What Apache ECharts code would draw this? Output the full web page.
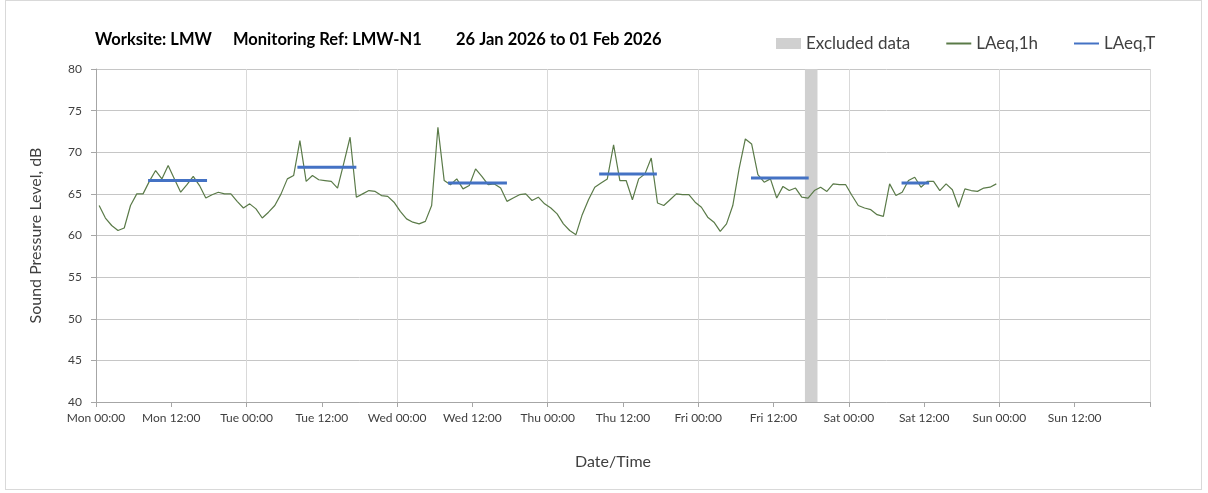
<!DOCTYPE html>
<html>
<head>
<meta charset="utf-8">
<title>LMW-N1 noise monitoring</title>
<script src="https://cdn.jsdelivr.net/npm/echarts@6/dist/echarts.min.js"></script>
<style>
  html, body { margin: 0; padding: 0; background: #fff; }
  #frame { position: absolute; left: 5px; top: 0; width: 1197px; height: 490px; border: 1px solid #d9d9d9; box-sizing: border-box; }
  #main { position: absolute; left: 0; top: 0; width: 1208px; height: 493px; }
</style>
</head>
<body>
<div id="frame"></div>
<div id="main"></div>
<script>
// hourly LAeq,1h values, Mon 00:00 -> Sun 00:00 (one per hour, plotted at mid-hour)
const laeq1h = [
  63.6, 62.1, 61.2, 60.6, 60.9, 63.6, 65.0, 65.0, 66.5, 67.8, 66.8, 68.4,
  66.8, 65.2, 66.1, 67.1, 66.0, 64.5, 64.9, 65.2, 65.0, 65.0, 64.1, 63.3,
  63.8, 63.2, 62.1, 62.8, 63.6, 65.0, 66.8, 67.2, 71.4, 66.5, 67.2, 66.7,
  66.6, 66.5, 65.7, 68.7, 71.8, 64.6, 65.0, 65.4, 65.3, 64.8, 64.7, 64.0,
  62.9, 62.0, 61.6, 61.4, 61.7, 63.6, 73.0, 66.6, 66.1, 66.8, 65.6, 66.0,
  68.0, 67.1, 66.1, 66.2, 65.7, 64.1, 64.5, 64.9, 65.0, 64.2, 64.6, 63.8,
  63.3, 62.6, 61.4, 60.6, 60.1, 62.5, 64.3, 65.8, 66.3, 66.8, 70.9, 66.6,
  66.6, 64.3, 66.8, 67.4, 69.3, 63.9, 63.6, 64.3, 65.0, 64.9, 64.9, 64.0,
  63.4, 62.2, 61.6, 60.5, 61.4, 63.6, 68.0, 71.6, 71.0, 67.3, 66.4, 66.8,
  64.5, 65.9, 65.4, 65.7, 64.6, 64.5, 65.4, 65.8, 65.3, 66.2, 66.1, 66.1,
  64.8, 63.6, 63.3, 63.1, 62.5, 62.3, 66.2, 64.8, 65.2, 66.6, 67.0, 65.8,
  66.5, 66.5, 65.4, 66.2, 65.5, 63.4, 65.6, 65.4, 65.3, 65.7, 65.8, 66.2
];

// LAeq,T periods, hours from Mon 00:00
const periodStart = [8.3, 32.1, 56.1, 80.2, 104.4, 128.4];
const periodEnd   = [17.7, 41.5, 65.5, 89.4, 113.6, 132.8];
const laeqT       = [66.6, 68.2, 66.3, 67.4, 66.9, 66.3];

// excluded data window (hours from Mon 00:00)
const excludedStart = [113];
const excludedEnd   = [115];

const tickLabels = [
  'Mon 00:00', 'Mon 12:00', 'Tue 00:00', 'Tue 12:00', 'Wed 00:00', 'Wed 12:00',
  'Thu 00:00', 'Thu 12:00', 'Fri 00:00', 'Fri 12:00', 'Sat 00:00', 'Sat 12:00',
  'Sun 00:00', 'Sun 12:00', ''
];

const FONT = 'Lato';
const myChart = echarts.init(document.getElementById('main'), null, { renderer: 'canvas' });

const series = [
  {
    name: 'Excluded data',
    type: 'line',
    data: [],
    symbol: 'none',
    itemStyle: { color: '#d0d0d0' },
    lineStyle: { width: 0 },
    z: 1,
    markArea: {
      silent: true,
      itemStyle: { color: '#d0d0d0', opacity: 1 },
      data: excludedStart.map((s, i) => [{ xAxis: s }, { xAxis: excludedEnd[i] }])
    }
  },
  {
    name: 'LAeq,1h',
    type: 'line',
    data: laeq1h.map((v, i) => [i + 0.5, v]),
    symbol: 'none',
    itemStyle: { color: '#5a7a48' },
    lineStyle: { color: '#5a7a48', width: 1.2 },
    z: 3
  }
];
laeqT.forEach((v, i) => {
  series.push({
    name: 'LAeq,T',
    type: 'line',
    data: [[periodStart[i], v], [periodEnd[i], v]],
    symbol: 'none',
    itemStyle: { color: '#4472c4' },
    lineStyle: { color: '#4472c4', width: 3, cap: 'butt' },
    z: 4
  });
});

myChart.setOption({
  animation: false,
  title: {
    text: '{a|Worksite: LMW}{b|Monitoring Ref: LMW-N1}{c|26 Jan 2026 to 01 Feb 2026}',
    left: 90,
    top: 26,
    textStyle: {
      rich: {
        a: { fontFamily: FONT, fontSize: 16.5, fontWeight: 'bold', color: '#000', width: 138 },
        b: { fontFamily: FONT, fontSize: 16.5, fontWeight: 'bold', color: '#000', width: 223 },
        c: { fontFamily: FONT, fontSize: 16.5, fontWeight: 'bold', color: '#000' }
      }
    }
  },
  legend: {
    left: 771,
    top: 30,
    itemWidth: 25,
    itemHeight: 11,
    itemGap: 35,
    textStyle: { fontFamily: FONT, fontSize: 17, color: '#404040' },
    data: [
      { name: 'Excluded data', icon: 'rect' },
      { name: 'LAeq,1h', itemStyle: { opacity: 0 } },
      { name: 'LAeq,T', itemStyle: { opacity: 0 } }
    ]
  },
  grid: { left: 96, right: 58, top: 69, bottom: 91 },
  xAxis: {
    type: 'value',
    min: 0,
    max: 168,
    interval: 12,
    name: 'Date/Time',
    nameLocation: 'middle',
    nameGap: 52,
    nameTextStyle: { fontFamily: FONT, fontSize: 16, color: '#404040', padding: [0, 20, 0, 0] },
    axisLine: { lineStyle: { color: '#a6a6a6' } },
    axisTick: { length: 5, lineStyle: { color: '#a6a6a6' } },
    axisLabel: {
      margin: 10,
      fontFamily: FONT,
      fontSize: 12,
      color: '#404040',
      formatter: (val) => tickLabels[Math.round(val / 12)]
    },
    splitLine: { show: true, lineStyle: { color: ['#d9d9d9', 'rgba(0,0,0,0)'] } }
  },
  yAxis: {
    type: 'value',
    min: 40,
    max: 80,
    interval: 5,
    name: 'Sound Pressure Level, dB',
    nameLocation: 'middle',
    nameGap: 52,
    nameTextStyle: { fontFamily: FONT, fontSize: 16, color: '#404040' },
    axisLine: { show: true, lineStyle: { color: '#a6a6a6' } },
    axisTick: { show: true, length: 5, lineStyle: { color: '#a6a6a6' } },
    axisLabel: { margin: 14, fontFamily: FONT, fontSize: 12, color: '#404040' },
    splitLine: { lineStyle: { color: '#c6c6c6' } }
  },
  series: series
});
</script>
</body>
</html>
